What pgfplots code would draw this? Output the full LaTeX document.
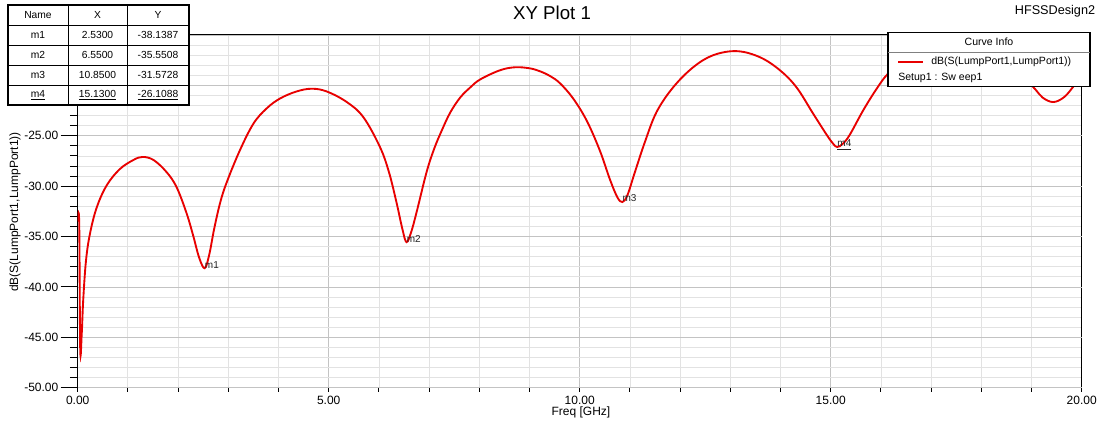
\documentclass[border=0pt]{standalone}
\usepackage{pgfplots}
\pgfplotsset{compat=1.18}
\usepackage{fontspec}
\setmainfont{Liberation Sans}
\definecolor{curvered}{RGB}{232,0,0}
\definecolor{majgrid}{RGB}{195,195,195}
\definecolor{mingrid}{RGB}{226,226,226}
\begin{document}
\begin{tikzpicture}
\useasboundingbox (0,0) rectangle (831pt,316.5pt);
\fill[white] (0,0) rectangle (831pt,316.5pt);
\begin{axis}[
 at={(58.275pt,25.725pt)}, anchor=south west,
 scale only axis, width=753pt, height=264.5pt,
 xmin=0, xmax=20, ymin=-50, ymax=-15,
 axis line style={black, line width=0.9pt},
 tick align=outside, tick pos=left,
 major tick length=3pt, minor tick length=5.8pt,
 tick style={black, line width=0.7pt},
 xtick={0,5,10,15,20},
 extra x ticks={1,2,3,4,6,7,8,9,11,12,13,14,16,17,18,19},
 extra x tick labels={},
 extra x tick style={grid=major, major grid style={mingrid, line width=0.6pt}},
 ytick={-50,-45,...,-15},
 yticklabels={-50.00,-45.00,-40.00,-35.00,-30.00,-25.00,{},{}},
 extra y ticks={-50,-45,...,-15},
 extra y tick labels={},
 extra y tick style={major tick length=12.75pt},
 minor y tick num=4,
 xmajorgrids, ymajorgrids, yminorgrids,
 major grid style={majgrid, line width=0.6pt},
 minor grid style={mingrid, line width=0.6pt},
 /pgf/number format/assume math mode=true,
 tick label style={font=\fontsize{9}{10}\selectfont, /pgf/number format/fixed, /pgf/number format/fixed zerofill, /pgf/number format/precision=2},
 yticklabel style={xshift=-8pt},
]
\addplot[curvered, line width=1.4pt, smooth, tension=0.6] table {
x y
0.000 -33.5
0.030 -33.6
0.050 -46.2
0.080 -44.7
0.110 -41.3
0.165 -37.4
0.245 -34.7
0.38 -32.1
0.58 -29.9
0.84 -28.3
1.11 -27.4
1.29 -27.1
1.51 -27.4
1.77 -28.6
1.97 -30.1
2.17 -32.7
2.30 -34.9
2.42 -37.1
2.53 -38.14
2.62 -36.8
2.72 -34.2
2.84 -31.6
2.97 -29.6
3.23 -26.45
3.50 -23.8
3.76 -22.3
4.03 -21.3
4.36 -20.6
4.66 -20.33
4.96 -20.6
5.36 -21.65
5.69 -23.15
6.02 -26.1
6.20 -28.6
6.35 -31.6
6.47 -34.3
6.55 -35.55
6.64 -34.6
6.75 -32.6
6.95 -28.6
7.10 -26.3
7.25 -24.5
7.42 -22.7
7.62 -21.2
7.82 -20.2
8.02 -19.4
8.41 -18.5
8.71 -18.2
9.00 -18.3
9.21 -18.6
9.42 -19.1
9.61 -19.8
9.87 -21.3
10.14 -23.5
10.40 -26.45
10.60 -29.3
10.75 -31.1
10.85 -31.57
10.95 -30.9
11.10 -28.6
11.30 -25.6
11.53 -22.65
11.86 -20.2
12.26 -18.2
12.66 -17.0
13.13 -16.6
13.59 -17.2
13.99 -18.5
14.32 -20.2
14.65 -22.8
14.92 -24.9
15.05 -25.8
15.13 -26.11
15.24 -25.8
15.38 -24.9
15.65 -22.45
15.92 -20.3
16.15 -18.8
16.60 -16.9
17.10 -15.9
17.60 -15.7
18.10 -16.3
18.60 -18.0
19.04 -20.2
19.22 -21.2
19.43 -21.65
19.64 -21.2
19.82 -20.2
20.00 -18.9
};
\node[anchor=base west, inner sep=0pt, font=\fontsize{7.5}{8}\selectfont, text=black!85] at (axis cs:2.53,-38.14) {m1};
\node[anchor=base west, inner sep=0pt, font=\fontsize{7.5}{8}\selectfont, text=black!85] at (axis cs:6.55,-35.55) {m2};
\node[anchor=base west, inner sep=0pt, font=\fontsize{7.5}{8}\selectfont, text=black!85] at (axis cs:10.85,-31.57) {m3};
\node[anchor=base west, inner sep=0pt, font=\fontsize{7.5}{8}\selectfont, text=black!85] at (axis cs:15.13,-26.11) {\underline{m4}};
\end{axis}
\begin{scope}[x=0.75pt, y=-0.75pt, shift={(0pt,316.5pt)}]
\node[font=\fontsize{14}{16}\selectfont] at (552,13) {XY Plot 1};
\node[font=\fontsize{9.5}{11}\selectfont] at (1055,11) {HFSSDesign2};
\node[rotate=90, font=\fontsize{9}{10}\selectfont] at (15,212) {dB(S(LumpPort1,LumpPort1))};
\node[font=\fontsize{9}{10}\selectfont] at (581,412) {Freq [GHz]};
% marker table
\fill[white] (8,5) rectangle (189,105);
\draw[line width=0.6pt] (189,34) -- (200,34);
\draw[line width=0.8pt] (8,5) rectangle (189,105);
\foreach \yy in {25,45,65,85} \draw[line width=0.6pt] (8,\yy) -- (189,\yy);
\draw[line width=0.6pt] (68,5) -- (68,105);
\draw[line width=0.6pt] (127,5) -- (127,105);
\begin{scope}[every node/.style={font=\fontsize{7.7}{9}\selectfont, inner sep=1pt}]
\node at (38,15) {Name}; \node at (97.5,15) {X}; \node at (158,15) {Y};
\node at (38,35) {m1}; \node at (97.5,35) {2.5300}; \node at (158,35) {-38.1387};
\node at (38,55) {m2}; \node at (97.5,55) {6.5500}; \node at (158,55) {-35.5508};
\node at (38,75) {m3}; \node at (97.5,75) {10.8500}; \node at (158,75) {-31.5728};
\node at (38,95) {\underline{m4}}; \node at (97.5,95) {\underline{15.1300}}; \node at (158,95) {\underline{-26.1088}};
\end{scope}
% curve info box
\fill[white] (888,32.7) rectangle (1090,86.7);
\draw[line width=0.8pt] (888,32.7) rectangle (1090,86.7);
\draw[gray, line width=0.6pt] (888,52.3) -- (1090,52.3);
\begin{scope}[every node/.style={font=\fontsize{7.9}{9}\selectfont}]
\node at (989,42) {Curve Info};
\draw[curvered, line width=1.5pt] (898,61.7) -- (923,61.7);
\node[anchor=west, inner sep=0pt] at (931,61.7) {dB(S(LumpPort1,LumpPort1))};
\node[anchor=west, inner sep=0pt] at (898,78.3) {Setup1 : Sw eep1};
\end{scope}
\end{scope}
\end{tikzpicture}
\end{document}
